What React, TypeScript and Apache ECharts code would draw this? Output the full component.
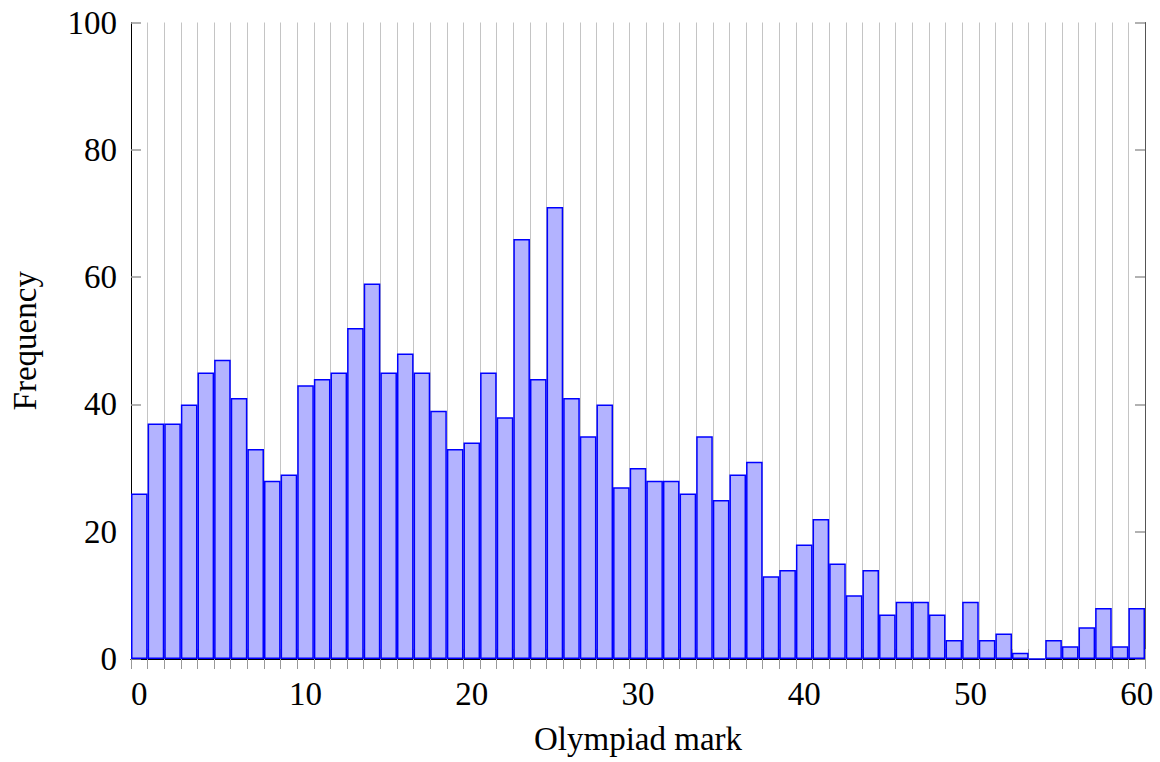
import React, { useEffect, useRef } from "react";
import * as echarts from "echarts";

const marks: string[] = Array.from({ length: 61 }, (_, i) => String(i));
const frequency: number[] = [
  26, 37, 37, 40, 45, 47, 41, 33, 28, 29,
  43, 44, 45, 52, 59, 45, 48, 45, 39, 33,
  34, 45, 38, 66, 44, 71, 41, 35, 40, 27,
  30, 28, 28, 26, 35, 25, 29, 31, 13, 14,
  18, 22, 15, 10, 14, 7, 9, 9, 7, 3,
  9, 3, 4, 1, 0, 3, 2, 5, 8, 2,
  8,
];
const xTitle = "Olympiad mark";
const yTitle = "Frequency";

const FONT = "Liberation Serif, Times New Roman, serif";

export default function App() {
  const ref = useRef<HTMLDivElement>(null);
  useEffect(() => {
    document.body.style.margin = "0";
    if (!ref.current) return;
    const chart = echarts.init(ref.current, undefined, { renderer: "svg" });
    const textStyle = { fontFamily: FONT, fontSize: 33, color: "#000" };
    chart.setOption({
      animation: false,
      backgroundColor: "#fff",
      textStyle: { fontFamily: FONT },
      grid: { left: 130, right: 15, top: 22.5, bottom: 103, containLabel: false },
      xAxis: [
        {
          type: "category",
          data: marks,
          position: "bottom",
          boundaryGap: true,
          axisLine: { show: true, lineStyle: { color: "#000", width: 1 } },
          axisTick: { show: true, interval: 0, alignWithLabel: false, inside: false, length: 10, lineStyle: { color: "#999", width: 1 } },
          axisLabel: {
            ...textStyle,
            margin: 18,
            interval: (i: number) => i % 10 === 0,
          },
          splitLine: { show: true, interval: 0, lineStyle: { color: "#c4c4c4", width: 1 } },
          name: xTitle,
          nameLocation: "middle",
          nameGap: 63,
          nameTextStyle: textStyle,
        },
        {
          type: "category",
          data: marks,
          position: "top",
          boundaryGap: true,
          axisLine: { show: true, lineStyle: { color: "#000", width: 1 } },
          axisTick: { show: true, interval: 0, alignWithLabel: false, inside: false, length: 10, lineStyle: { color: "#999", width: 1 } },
          axisLabel: { show: false },
          splitLine: { show: false },
        },
      ],
      yAxis: [
        {
          type: "value",
          min: 0,
          max: 100,
          interval: 20,
          position: "left",
          axisLine: { show: true, lineStyle: { color: "#000", width: 1 } },
          axisTick: { show: true, inside: true, length: 10, lineStyle: { color: "#999", width: 1.5 } },
          axisLabel: { ...textStyle, margin: 14 },
          splitLine: { show: false },
          name: yTitle,
          nameLocation: "middle",
          nameGap: 90,
          nameTextStyle: textStyle,
        },
        {
          type: "value",
          min: 0,
          max: 100,
          interval: 20,
          position: "right",
          axisLine: { show: true, lineStyle: { color: "#555", width: 1 } },
          axisTick: { show: true, inside: true, length: 10, lineStyle: { color: "#999", width: 1.5 } },
          axisLabel: { show: false },
          splitLine: { show: false },
        },
      ],
      series: [
        {
          type: "bar",
          xAxisIndex: 0,
          yAxisIndex: 0,
          data: frequency,
          barWidth: "100%",
          barCategoryGap: "0%",
          itemStyle: { color: "#b3b3ff", borderColor: "#0000ff", borderWidth: 1.5 },
        },
      ],
    });
    return () => chart.dispose();
  }, []);
  return <div ref={ref} style={{ position: "fixed", left: 0, top: 0, width: 1160, height: 762 }} />;
}
